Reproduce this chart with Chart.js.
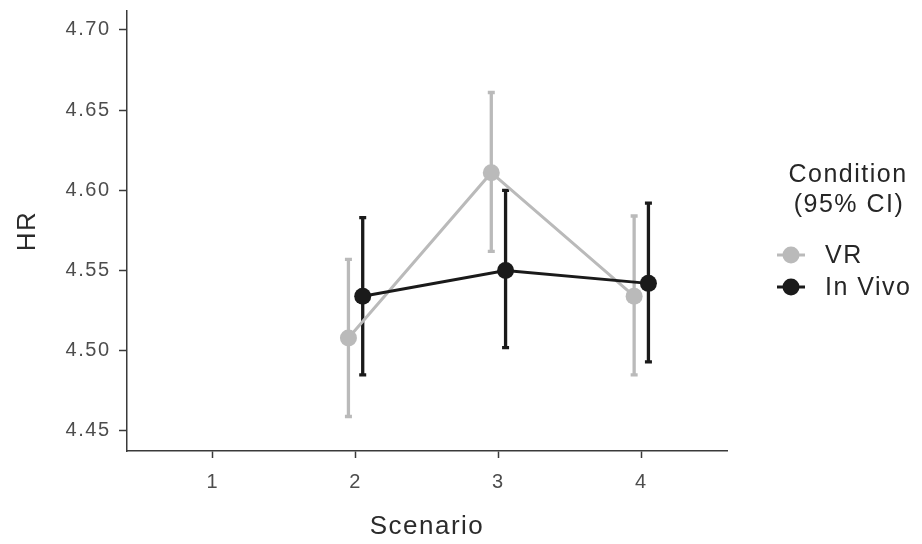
<!DOCTYPE html>
<html>
<head>
<meta charset="utf-8">
<script src="https://cdn.jsdelivr.net/npm/chart.js@4/dist/chart.umd.min.js"></script>
<style>
  html, body { margin: 0; padding: 0; background: #ffffff; }
  canvas { display: block; }
</style>
</head>
<body>
<canvas id="c" width="922" height="544"></canvas>
<script>
// ---- data ----
const scenarios = [1, 2, 3, 4];
const yTickValues = [4.45, 4.50, 4.55, 4.60, 4.65, 4.70];
const seriesNames = ['VR', 'In Vivo'];
const vrMean = [null, 4.508, 4.611, 4.534];
const vrLow  = [null, 4.459, 4.562, 4.485];
const vrHigh = [null, 4.557, 4.661, 4.584];
const ivMean = [null, 4.534, 4.550, 4.542];
const ivLow  = [null, 4.485, 4.502, 4.493];
const ivHigh = [null, 4.583, 4.600, 4.592];
const legendTitle = ['Condition', '(95% CI)'];
const xTitle = 'Scenario';
const yTitle = 'HR';

// ---- styling ----
const FONT = '"Liberation Sans", Arial, Helvetica, sans-serif';
const VR_COLOR = '#bababa';
const IV_COLOR = '#1a1a1a';
const AXIS_COLOR = '#3a3a3a';
const DODGE = 0.05;
const SPACING = '1.5px';

function pts(mean, low, high, shift) {
  const out = [];
  scenarios.forEach((s, i) => {
    if (mean[i] !== null) out.push({ x: s + shift, y: mean[i], lo: low[i], hi: high[i] });
  });
  return out;
}
const vrPts = pts(vrMean, vrLow, vrHigh, -DODGE);
const ivPts = pts(ivMean, ivLow, ivHigh, DODGE);

const spacingPlugin = {
  id: 'spacing',
  beforeDraw(chart) { if ('letterSpacing' in chart.ctx) chart.ctx.letterSpacing = SPACING; }
};

const errorBars = {
  id: 'errorBars',
  beforeDatasetsDraw(chart) {
    const { ctx, scales: { x, y } } = chart;
    const groups = [[vrPts, VR_COLOR], [ivPts, IV_COLOR]];
    ctx.save();
    ctx.lineWidth = 3.3;
    ctx.lineCap = 'butt';
    for (const [arr, col] of groups) {
      ctx.strokeStyle = col;
      for (const p of arr) {
        const px = x.getPixelForValue(p.x);
        const yl = y.getPixelForValue(p.lo);
        const yh = y.getPixelForValue(p.hi);
        ctx.beginPath();
        ctx.moveTo(px, yl); ctx.lineTo(px, yh);
        ctx.moveTo(px - 3.5, yl); ctx.lineTo(px + 3.5, yl);
        ctx.moveTo(px - 3.5, yh); ctx.lineTo(px + 3.5, yh);
        ctx.stroke();
      }
    }
    ctx.restore();
  }
};

const legendPlugin = {
  id: 'customLegend',
  afterDraw(chart) {
    const ctx = chart.ctx;
    ctx.save();
    if ('letterSpacing' in ctx) ctx.letterSpacing = SPACING;
    ctx.fillStyle = '#262626';
    ctx.font = '25px ' + FONT;
    ctx.textAlign = 'center';
    ctx.textBaseline = 'middle';
    ctx.fillText(legendTitle[0], 848, 175);
    ctx.fillText(legendTitle[1], 849, 205);
    const rows = [[seriesNames[0], VR_COLOR, 255], [seriesNames[1], IV_COLOR, 287]];
    ctx.textAlign = 'left';
    for (const [name, col, yy] of rows) {
      ctx.strokeStyle = col;
      ctx.lineWidth = 3;
      ctx.beginPath();
      ctx.moveTo(777, yy); ctx.lineTo(805, yy);
      ctx.stroke();
      ctx.fillStyle = col;
      ctx.beginPath();
      ctx.arc(791, yy, 8.5, 0, Math.PI * 2);
      ctx.fill();
      ctx.fillStyle = '#262626';
      ctx.fillText(name, 825, yy + 1);
    }
    ctx.restore();
  }
};

new Chart(document.getElementById('c'), {
  type: 'line',
  data: {
    datasets: [
      { label: seriesNames[1] + ' points', data: ivPts, showLine: false, pointRadius: 8.5, pointHoverRadius: 8.5,
        pointBackgroundColor: IV_COLOR, pointBorderWidth: 0, borderColor: IV_COLOR, order: 1 },
      { label: seriesNames[0] + ' points', data: vrPts, showLine: false, pointRadius: 8.5, pointHoverRadius: 8.5,
        pointBackgroundColor: VR_COLOR, pointBorderWidth: 0, borderColor: VR_COLOR, order: 2 },
      { label: seriesNames[1], data: ivPts, borderColor: IV_COLOR, borderWidth: 3, pointRadius: 0, tension: 0, order: 3 },
      { label: seriesNames[0], data: vrPts, borderColor: VR_COLOR, borderWidth: 3, pointRadius: 0, tension: 0, order: 4 }
    ]
  },
  options: {
    responsive: false,
    animation: false,
    events: [],
    clip: false,
    layout: { padding: { top: 11, right: 195, bottom: 0, left: 0 } },
    plugins: { legend: { display: false }, tooltip: { enabled: false } },
    scales: {
      x: {
        type: 'linear',
        min: 0.4, max: 4.6,
        afterBuildTicks(s) { s.ticks = scenarios.map(v => ({ value: v })); },
        afterFit(s) { s.height = 93; s.paddingLeft = 0; s.paddingRight = 0; },
        ticks: { color: '#4d4d4d', font: { family: FONT, size: 20 }, padding: 12,
                 callback: v => String(v), maxRotation: 0, autoSkip: false },
        grid: { display: true, drawOnChartArea: false, drawTicks: true, tickLength: 7,
                tickWidth: 1.5, tickColor: AXIS_COLOR },
        border: { display: true, color: AXIS_COLOR, width: 1.5 },
        title: { display: true, text: xTitle, color: '#2b2b2b',
                 font: { family: FONT, size: 26 }, padding: { top: 0, bottom: 2 } }
      },
      y: {
        type: 'linear',
        min: 4.4375, max: 4.7118,
        afterBuildTicks(s) { s.ticks = yTickValues.map(v => ({ value: v })); },
        afterFit(s) { s.width = 127; s.paddingTop = 0; s.paddingBottom = 0; },
        ticks: { color: '#4d4d4d', font: { family: FONT, size: 20 }, padding: 8.5,
                 callback: v => Number(v).toFixed(2) },
        grid: { display: true, drawOnChartArea: false, drawTicks: true, tickLength: 8,
                tickWidth: 1.5, tickColor: AXIS_COLOR },
        border: { display: true, color: AXIS_COLOR, width: 1.5 },
        title: { display: true, text: yTitle, color: '#2b2b2b',
                 font: { family: FONT, size: 26 }, padding: { top: 12, bottom: 0 } }
      }
    }
  },
  plugins: [spacingPlugin, errorBars, legendPlugin]
});
</script>
</body>
</html>
